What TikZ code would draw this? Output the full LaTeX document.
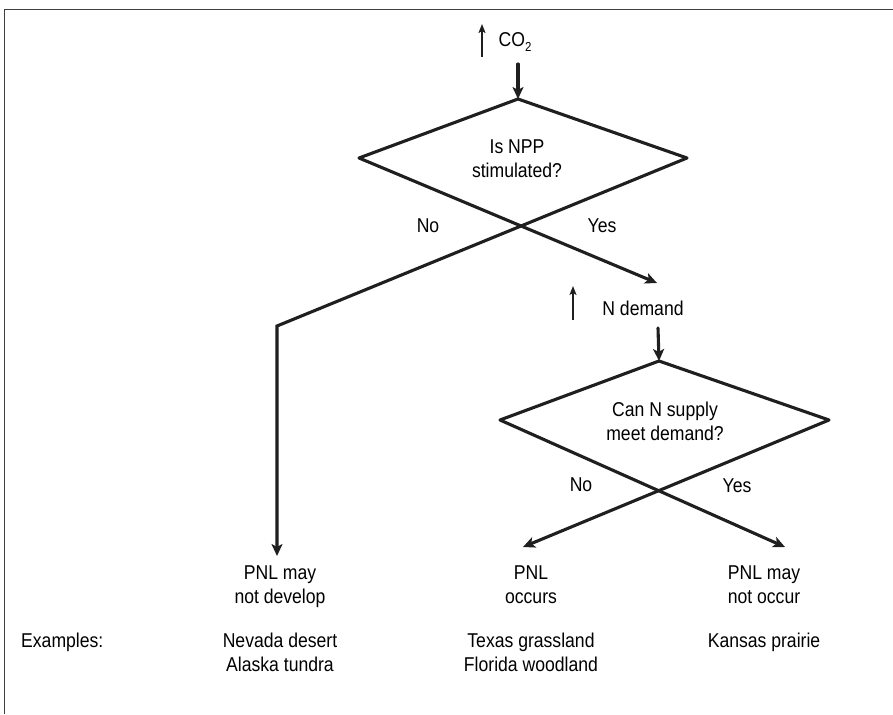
\documentclass[tikz,border=0pt]{standalone}
\usepackage{fontspec}
\setmainfont{Liberation Sans}[FakeStretch=0.88]
\usetikzlibrary{arrows.meta,positioning}

\newcommand{\Outcome}[4]{
\node[Result] (#1) at (#2,556) {#3};
\node[Example] (#1ex) at (#2,632) {#4};
}
\tikzset{every node/.style={font=\fontsize{20}{24}\selectfont, align=center, inner sep=1pt}}
\tikzset{Result/.style={anchor=north, outer sep=9pt}}
\tikzset{Example/.style={anchor=north}}
\tikzset{Edge/.style={line width=3.1pt, line join=miter, line cap=round, black!88}}
\tikzset{Flow/.style={Edge, -{Stealth[length=12pt,width=11pt,inset=3pt]}}}
\tikzset{Up/.style={line width=#1, black!88, -{Stealth[length=9pt,width=7pt,inset=2pt]}}}
\tikzset{Frame/.style={line width=1.3pt, black!75}}

\begin{document}
\begin{tikzpicture}[x=1pt,y=-1pt]
\useasboundingbox (0,0) rectangle (893,714);
\draw[Frame] (893,9.5) -- (4.5,9.5) -- (4.5,714);

% rising CO2
\node (CO2) at (515,42) {CO\raisebox{-0.45ex}{\fontsize{13}{13}\selectfont 2}};
\coordinate (CO2up) at (482,57);
\draw[Up=2.4pt] (CO2up) -- ++(0,-33);

% first question
\coordinate (Q1in) at (518,64);
\coordinate (Q1top) at (518,99);
\coordinate (Q1left) at (359,158);
\coordinate (Q1right) at (687,158);
\node (Q1) at (517,159) {Is NPP\\stimulated?};
\draw[Flow] (Q1in) -- (Q1top);
\draw[Edge] (Q1left) -- (Q1top) -- (Q1right);
\node (No1) at (428,226) {No};
\node (Yes1) at (602,226) {Yes};

% rising N demand
\coordinate (Q1yes) at (657,283);
\coordinate (Q1bend) at (277,326);
\node (Ndem) at (643,308) {N demand};
\coordinate (Ndemup) at (573,320);
\draw[Up=1.3pt] (Ndemup) -- ++(0,-34);

% second question
\coordinate (Q2in) at (658,328);
\coordinate (Q2top) at (659,361);
\coordinate (Q2left) at (500,420);
\coordinate (Q2right) at (829,420);
\coordinate (Q2no) at (523,547);
\coordinate (Q2yes) at (785,547);
\node (Q2) at (665,421) {Can N supply\\meet demand?};
\draw[Flow] (Q2in) -- (Q2top);
\draw[Edge] (Q2left) -- (Q2top) -- (Q2right);
\node (No2) at (581,485) {No};
\node (Yes2) at (737,486) {Yes};

% outcomes
\Outcome{PNLno}{280}{PNL may\\not develop}{Nevada desert\\Alaska tundra}
\Outcome{PNLyes}{531}{PNL\\occurs}{Texas grassland\\Florida woodland}
\Outcome{PNLmay}{764}{PNL may\\not occur}{Kansas prairie}
\node[Example, anchor=north west] (Ex) at (20,632) {Examples:};

\draw[Flow] (Q1left) -- (Q1yes);
\draw[Flow] (Q1right) -- (Q1bend) -- (Q1bend |- PNLno.north);
\draw[Flow] (Q2left) -- (Q2yes);
\draw[Flow] (Q2right) -- (Q2no);

\end{tikzpicture}
\end{document}
